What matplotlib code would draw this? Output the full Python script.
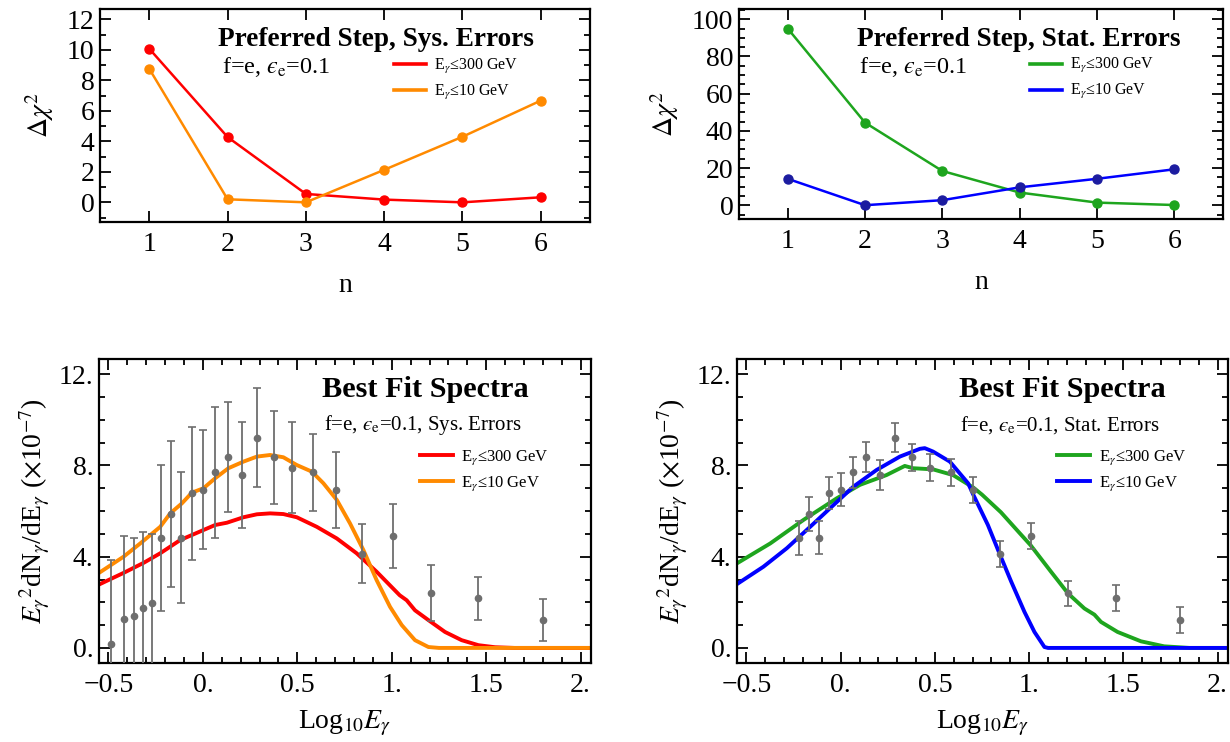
import matplotlib
matplotlib.use("Agg")
import matplotlib.pyplot as plt
from matplotlib.lines import Line2D
from matplotlib.ticker import MultipleLocator, FixedLocator

plt.rcParams['font.family'] = ['Liberation Serif', 'DejaVu Serif']
plt.rcParams['mathtext.fontset'] = 'stix'

# ---- top panels: delta chi^2 vs n
n = [1, 2, 3, 4, 5, 6]
dchi_sys_300 = [10.07, 4.28, 0.55, 0.18, 0.0, 0.33]
dchi_sys_10 = [8.75, 0.2, 0.0, 2.13, 4.3, 6.67]
dchi_stat_300 = [95.0, 44.4, 18.4, 6.8, 1.4, 0.1]
dchi_stat_10 = [14.2, 0.0, 2.7, 9.6, 14.2, 19.3]

# ---- bottom panels: data points
logE = [-0.485, -0.42, -0.365, -0.316, -0.27, -0.22, -0.169, -0.116, -0.06, 0.0,
        0.065, 0.132, 0.208, 0.289, 0.377, 0.474, 0.584, 0.704, 0.845, 1.009,
        1.208, 1.459, 1.799]
flux = [0.16, 1.29, 1.39, 1.74, 1.95, 4.83, 5.87, 4.83, 6.78, 6.94,
        7.70, 8.37, 7.58, 9.22, 8.36, 7.91, 7.70, 6.93, 4.13, 4.90,
        2.40, 2.18, 1.23]
err_sys = [3.7, 3.6, 3.45, 3.35, 3.05, 3.2, 3.2, 2.88, 2.92, 2.6,
           2.86, 2.43, 2.31, 2.16, 2.04, 2.0, 1.7, 1.65, 1.29, 1.4,
           1.23, 0.95, 0.91]
# stat errors only for points from logE = -0.22 on
err_stat = [0.75, 0.74, 0.72, 0.71, 0.71, 0.69, 0.66, 0.64, 0.64,
            0.6, 0.61, 0.6, 0.58, 0.56, 0.56, 0.55, 0.56, 0.58]

# ---- best fit curves
x_sys_10 = [-0.55, -0.42, -0.332, -0.226, -0.173, -0.111, -0.058, 0.003, 0.065, 0.135,
            0.215, 0.286, 0.356, 0.426, 0.497, 0.577, 0.638, 0.709, 0.779, 0.85,
            0.92, 0.991, 1.053, 1.123, 1.194, 1.25, 2.06]
y_sys_10 = [3.29, 4.0, 4.58, 5.31, 5.9, 6.34, 6.81, 7.0, 7.44, 7.88,
            8.17, 8.39, 8.46, 8.36, 8.02, 7.73, 7.22, 6.49, 5.46, 4.29,
            2.97, 1.8, 1.0, 0.34, 0.04, 0.0, 0.0]
x_sys_300 = [-0.55, -0.42, -0.314, -0.226, -0.12, 0.003, 0.065, 0.127, 0.215, 0.286,
             0.356, 0.426, 0.497, 0.603, 0.709, 0.814, 0.92, 1.042, 1.079, 1.123,
             1.194, 1.282, 1.37, 1.459, 1.547, 1.65, 2.06]
y_sys_300 = [2.78, 3.29, 3.73, 4.15, 4.73, 5.17, 5.39, 5.49, 5.73, 5.86,
             5.9, 5.87, 5.73, 5.31, 4.8, 4.15, 3.34, 2.31, 2.09, 1.65,
             1.22, 0.7, 0.34, 0.12, 0.03, 0.0, 0.0]
x_stat_300 = [-0.55, -0.374, -0.198, -0.021, 0.102, 0.243, 0.34, 0.384, 0.49, 0.596,
              0.704, 0.75, 0.85, 0.95, 1.007, 1.116, 1.206, 1.293, 1.346, 1.381,
              1.469, 1.593, 1.716, 1.85, 2.06]
y_stat_300 = [3.71, 4.58, 5.61, 6.56, 7.15, 7.58, 7.98, 7.88, 7.83, 7.58,
              7.03, 6.72, 5.95, 5.03, 4.51, 3.34, 2.39, 1.73, 1.46, 1.14,
              0.7, 0.29, 0.07, 0.0, 0.0]
x_stat_10 = [-0.55, -0.41, -0.286, -0.162, -0.057, 0.067, 0.19, 0.314, 0.42, 0.446,
             0.49, 0.579, 0.676, 0.704, 0.781, 0.843, 0.905, 0.975, 1.028, 1.081,
             1.1, 2.06]
y_stat_10 = [2.8, 3.56, 4.37, 5.31, 6.12, 7.07, 7.8, 8.39, 8.73, 8.76,
             8.61, 8.17, 7.22, 6.71, 5.39, 4.13, 2.9, 1.58, 0.7, 0.04,
             0.0, 0.0]

red = '#ff0000'
orange = '#ff8a00'
green = '#1ea51e'
blue = '#0000ff'
gray = '#6e6e6e'

note_top = 'f=e, $ϵ_{\\rm e}$=0.1'

fig = plt.figure(figsize=(12.3, 7.42), dpi=100)


def frame(ax):
    ax.tick_params(which='both', direction='in', top=True, right=True,
                   labelsize=20, width=1.3)
    ax.tick_params(which='major', length=8)
    ax.tick_params(which='minor', length=4.5)
    ax.tick_params(axis='x', pad=7)
    ax.tick_params(axis='y', pad=4)
    for s in ax.spines.values():
        s.set_linewidth(1.6)


def legend(ax, colors, lw, x, y, size):
    h = [Line2D([], [], color=c, lw=lw) for c in colors]
    lab = [r'E$_\gamma$≤300 GeV', r'E$_\gamma$≤10 GeV']
    ax.legend(h, lab, loc='upper left', bbox_to_anchor=(x, y), frameon=False,
              fontsize=size, handlelength=2.0, handletextpad=0.5,
              borderpad=0, borderaxespad=0, labelspacing=0.45)


# top-left
ax1 = fig.add_axes([0.0813, 0.7008, 0.3984, 0.2871])
ax1.plot(n, dchi_sys_300, color=red, lw=1.8, marker='o', ms=6.5)
ax1.plot(n, dchi_sys_10, color=orange, lw=1.8, marker='o', ms=6.5)
ax1.set_xlim(0.37, 6.63)
ax1.set_ylim(-1.29, 12.68)
ax1.set_xticks(n)
ax1.yaxis.set_major_locator(MultipleLocator(2))
ax1.yaxis.set_minor_locator(MultipleLocator(1))
ax1.set_xlabel('n', fontsize=20, labelpad=12)
ax1.set_ylabel(r'$\Delta\chi^2$', fontsize=20, labelpad=8)
ax1.text(0.563, 0.859, 'Preferred Step, Sys. Errors', transform=ax1.transAxes,
         fontsize=19.6, fontweight='bold', ha='center', va='center')
ax1.text(0.249, 0.729, note_top, transform=ax1.transAxes,
         fontsize=17.4, ha='left', va='center')
legend(ax1, [red, orange], 2.6, 0.6, 0.775, 11.5)
frame(ax1)

# top-right
ax2 = fig.add_axes([0.6008, 0.7049, 0.3935, 0.283])
ax2.plot(n, dchi_stat_300, color=green, lw=1.8, marker='o', ms=6.5)
ax2.plot(n, dchi_stat_10, color=blue, lw=1.8, marker='o', ms=6.5,
         mfc='#1c1ca0', mec='#1c1ca0')
ax2.set_xlim(0.37, 6.63)
ax2.set_ylim(-7.4, 105.5)
ax2.set_xticks(n)
ax2.yaxis.set_major_locator(MultipleLocator(20))
ax2.yaxis.set_minor_locator(MultipleLocator(5))
ax2.set_xlabel('n', fontsize=20, labelpad=12)
ax2.set_ylabel(r'$\Delta\chi^2$', fontsize=20, labelpad=8)
ax2.text(0.578, 0.857, 'Preferred Step, Stat. Errors', transform=ax2.transAxes,
         fontsize=19.6, fontweight='bold', ha='center', va='center')
ax2.text(0.248, 0.725, note_top, transform=ax2.transAxes,
         fontsize=17.4, ha='left', va='center')
legend(ax2, [green, blue], 2.6, 0.601, 0.775, 11.5)
frame(ax2)

xt = [-0.5, 0.0, 0.5, 1.0, 1.5, 2.0]
xtl = ['−0.5', '0.', '0.5', '1.', '1.5', '2.']
yt = [0, 4, 8, 12]
ytl = ['0.', '4.', '8.', '12.']


def spectra(ax, curves, colors, ilo, errs, note):
    for (cx, cy), c in zip(curves, colors):
        ax.plot(cx, cy, color=c, lw=2.8, solid_joinstyle='round')
    ax.errorbar(logE[ilo:], flux[ilo:], yerr=errs, fmt='o', color=gray, ms=4.5,
                elinewidth=1.3, capsize=3, capthick=1.2, zorder=3)
    ax.set_xlim(-0.55, 2.055)
    ax.set_ylim(-0.66, 12.67)
    ax.xaxis.set_major_locator(FixedLocator(xt))
    ax.set_xticklabels(xtl)
    ax.xaxis.set_minor_locator(MultipleLocator(0.1))
    ax.yaxis.set_major_locator(FixedLocator(yt))
    ax.set_yticklabels(ytl)
    ax.yaxis.set_minor_locator(MultipleLocator(1))
    ax.set_xlabel(r'Log$_{10}E_\gamma$', fontsize=20, labelpad=8)
    ax.set_ylabel(r'$E_\gamma{}^2$dN$_\gamma$/dE$_\gamma$ ($\times$10$^{-7}$)',
                  fontsize=20, labelpad=5)
    ax.text(0.663, 0.898, 'Best Fit Spectra', transform=ax.transAxes,
            fontsize=21.8, fontweight='bold', ha='center', va='center')
    ax.text(0.657, 0.783, note, transform=ax.transAxes,
            fontsize=15, ha='center', va='center')
    legend(ax, colors, 2.8, 0.652, 0.705, 12)
    frame(ax)


ax3 = fig.add_axes([0.0805, 0.1065, 0.4, 0.4097])
spectra(ax3, [(x_sys_300, y_sys_300), (x_sys_10, y_sys_10)], [red, orange],
        0, err_sys, note_top + ', Sys. Errors')

ax4 = fig.add_axes([0.5992, 0.1065, 0.3992, 0.4097])
spectra(ax4, [(x_stat_300, y_stat_300), (x_stat_10, y_stat_10)], [green, blue],
        5, err_stat, note_top + ', Stat. Errors')

fig.savefig('out.png', dpi=100)
